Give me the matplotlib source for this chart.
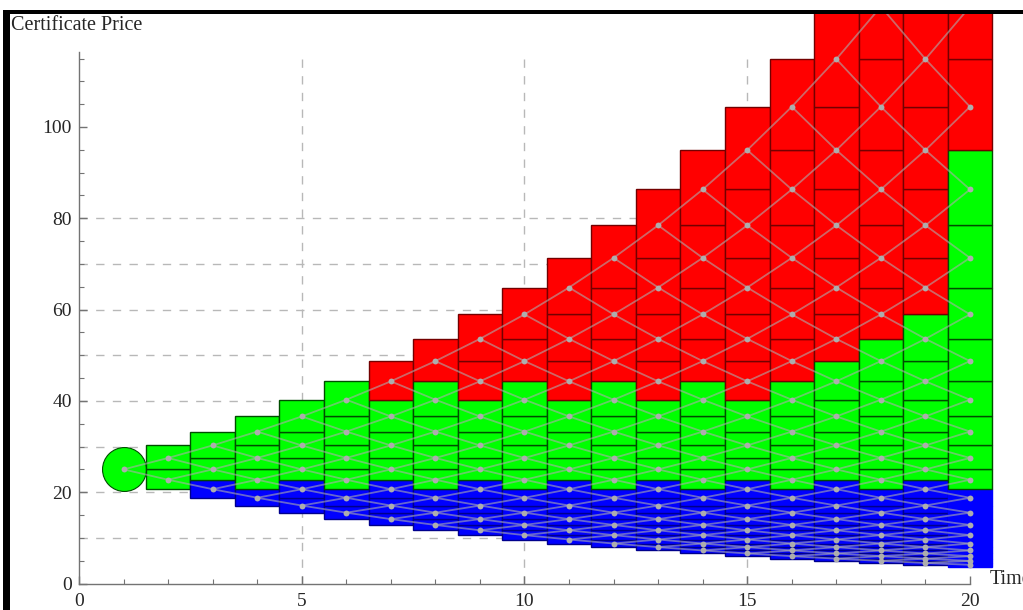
import matplotlib
matplotlib.use("Agg")
import matplotlib.pyplot as plt
from matplotlib.patches import Rectangle
from matplotlib.collections import LineCollection

# price lattice, lowest (level -20) to highest (level +20)
price_levels = [3.72, 4.09, 4.50, 4.95, 5.44, 5.99, 6.58, 7.24, 7.97, 8.76,
                9.64, 10.60, 11.66, 12.83, 14.11, 15.52, 17.08, 18.78, 20.66, 22.73,
                25.00,
                27.50, 30.25, 33.28, 36.60, 40.26, 44.29, 48.72, 53.59, 58.95, 64.84,
                71.33, 78.46, 86.31, 94.94, 104.43, 114.87, 126.36, 139.00, 152.90, 168.19]
times = list(range(1, 21))
# highest lattice level that is still green at each time step (above: red)
green_top = [0, 1, 2, 3, 4, 5, 4, 5, 4, 5, 4, 5, 4, 5, 4, 5, 6, 7, 8, 13]
# levels at or below this one are blue
blue_top = -2

x_ticks = [0, 5, 10, 15, 20]
y_ticks = [0, 20, 40, 60, 80, 100]
grid_x = [5, 10, 15]
grid_y = [10, 20, 30, 40, 50, 60, 70, 80]


def level(m):
    return price_levels[m + 20]


W, H = 1023, 610
fig = plt.figure(figsize=(W / 100, H / 100), dpi=100)
ax = fig.add_axes([10 / W, 0, 1013 / W, 596 / H])
ax.set_xlim(-1.549, 21.19)
ax.set_ylim(-5.80, 124.75)

# dashed grid
ax.vlines(grid_x, 0, 116.0, colors="0.72", lw=1.0, linestyles=(0, (6, 6)), zorder=0.5)
ax.hlines(grid_y, 0, 20, colors="0.72", lw=1.0, linestyles=(0, (6, 6)), zorder=0.5)

segs = []
node_x, node_y = [], []
for t, gtop in zip(times, green_top):
    k = t - 1
    for m in range(-k, k + 1, 2):
        if m > gtop:
            fc, ec = (1, 0, 0), (0.45, 0, 0)
        elif m <= blue_top:
            fc, ec = (0, 0, 1), (0, 0, 0.55)
        else:
            fc, ec = (0, 1, 0), (0, 0.3, 0)
        node_x.append(t)
        node_y.append(level(m))
        if t == 1:
            ax.scatter([t], [level(m)], s=1000, color=fc, edgecolors=ec,
                       linewidths=0.8, zorder=2)
        else:
            if t == times[-1] and m <= blue_top:
                ec = fc
            ax.add_patch(Rectangle((t - 0.5, level(m - 1)), 1, level(m + 1) - level(m - 1),
                                   facecolor=fc, edgecolor=ec, lw=1.0, zorder=2))
        if t < times[-1]:
            segs.append([(t, level(m)), (t + 1, level(m + 1))])
            segs.append([(t, level(m)), (t + 1, level(m - 1))])

ax.add_collection(LineCollection(segs, colors=(0.68, 0.68, 0.68, 0.6), lw=1.3, zorder=3))
ax.scatter(node_x, node_y, s=18, color=(0.68, 0.68, 0.68), linewidths=0, zorder=4)

# axes through the origin
for side in ("top", "right"):
    ax.spines[side].set_visible(False)
ax.spines["left"].set_position(("data", 0))
ax.spines["bottom"].set_position(("data", 0))
ax.spines["left"].set_bounds(0, 116.4)
ax.spines["bottom"].set_bounds(0, 20)
for side in ("left", "bottom"):
    ax.spines[side].set_color("0.45")
    ax.spines[side].set_linewidth(1.0)
ax.patch.set_visible(False)

ax.set_xticks(x_ticks)
ax.set_yticks(y_ticks)
ax.set_xticks([v for v in range(1, 20) if v % 5], minor=True)
ax.set_yticks([v for v in range(5, 120, 5) if v % 20], minor=True)
ax.tick_params(which="both", direction="in", colors="0.45", labelcolor="0.15")
ax.tick_params(which="major", length=6, width=1.0, labelsize=14)
ax.tick_params(axis="y", which="major", pad=5)
ax.tick_params(axis="x", which="major", pad=7)
ax.tick_params(which="minor", length=3.5, width=0.8)
for lab in ax.get_xticklabels() + ax.get_yticklabels():
    lab.set_fontfamily("Liberation Serif")

fig.text(11 / W, 1 - 25 / H, "Certificate Price", family="Liberation Serif",
         fontsize=14.5, color="0.15", va="center", ha="left")
fig.text(990 / W, 1 - 580 / H, "Time", family="Liberation Serif",
         fontsize=14.5, color="0.15", va="center", ha="left")

# black frame of the screenshot
fig.add_artist(Rectangle((3 / W, 0), 7 / W, 600 / H, transform=fig.transFigure,
                         facecolor="black", edgecolor="none", zorder=10))
fig.add_artist(Rectangle((3 / W, 1 - 14 / H), 1020 / W, 4 / H, transform=fig.transFigure,
                         facecolor="black", edgecolor="none", zorder=10))

fig.savefig("out.png", dpi=100)
